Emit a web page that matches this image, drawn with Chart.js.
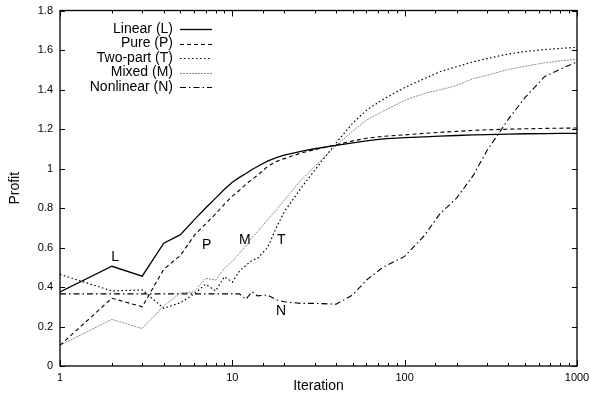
<!DOCTYPE html>
<html>
<head>
<meta charset="utf-8">
<style>
  html, body { margin: 0; padding: 0; background: #fff; }
  #box { width: 590px; height: 395px; }
</style>
</head>
<body>
<div id="box"><canvas id="myChart"></canvas></div>
<script src="https://cdn.jsdelivr.net/npm/chart.js@4/dist/chart.umd.min.js"></script>
<script>
// values
const iterations = [1,2,3,4,5,6,7,8,9,10,11,12,13,14,16,18,20,25,30,40,50,60,75,100,130,160,200,250,300,400,500,650,800,1000];
const linear    = [0.375,0.505,0.455,0.622,0.665,0.74,0.80,0.85,0.895,0.93,0.955,0.975,0.995,1.01,1.037,1.055,1.068,1.087,1.10,1.117,1.13,1.14,1.15,1.156,1.16,1.164,1.167,1.17,1.172,1.174,1.176,1.177,1.178,1.178];
const pure      = [0.105,0.343,0.30,0.49,0.56,0.66,0.72,0.77,0.82,0.86,0.89,0.92,0.945,0.965,1.01,1.035,1.05,1.078,1.095,1.12,1.14,1.153,1.163,1.17,1.178,1.183,1.188,1.193,1.196,1.199,1.201,1.203,1.204,1.205];
const twoPart   = [0.464,0.38,0.385,0.292,0.32,0.365,0.414,0.38,0.452,0.425,0.48,0.51,0.535,0.545,0.60,0.70,0.78,0.90,0.99,1.13,1.23,1.295,1.35,1.41,1.455,1.49,1.515,1.54,1.556,1.58,1.592,1.602,1.608,1.614];
const mixed     = [0.105,0.236,0.19,0.304,0.37,0.375,0.444,0.435,0.495,0.53,0.57,0.61,0.65,0.68,0.74,0.79,0.84,0.94,1.01,1.115,1.19,1.245,1.29,1.345,1.38,1.398,1.42,1.455,1.472,1.502,1.518,1.535,1.545,1.553];
const nonlinear = [0.365,0.365,0.365,0.365,0.365,0.365,0.365,0.365,0.365,0.365,0.365,0.338,0.376,0.355,0.36,0.335,0.325,0.317,0.317,0.313,0.36,0.435,0.50,0.555,0.66,0.77,0.85,0.965,1.09,1.25,1.36,1.466,1.503,1.54];

const seriesNames = ['Linear (L)','Pure (P)','Two-part (T)','Mixed (M)','Nonlinear (N)'];
const yTicks = [0,0.2,0.4,0.6,0.8,1,1.2,1.4,1.6,1.8];

// the letters written next to the curves
const noteText = ['L','P','M','T','N'];
const noteX = [2.09, 7.1, 11.8, 19.2, 19.2];
const noteY = [0.553, 0.61, 0.638, 0.638, 0.28];

const styles = [
  {color:'#000', width:1.3, dash:[]},
  {color:'#000', width:1.1, dash:[4,3]},
  {color:'#000', width:1.2, dash:[1.5,2.5]},
  {color:'#8c8c8c', width:1, dash:[2,1]},
  {color:'#000', width:1.1, dash:[6,3,1.5,3]}
];

const pts = (ys) => ys.map((y,i) => ({x: iterations[i], y: y}));
const allSeries = [linear, pure, twoPart, mixed, nonlinear];

const FONT = '"Liberation Sans", Arial, sans-serif';

const frame = {
  id: 'frame',
  afterDraw(chart) {
    const c = chart.ctx, a = chart.chartArea;
    const xs = chart.scales.x, ys = chart.scales.y;
    c.save();
    c.strokeStyle = '#000';
    c.lineWidth = 1;
    c.setLineDash([]);
    c.beginPath();
    xs.ticks.forEach(t => {
      const px = Math.round(xs.getPixelForValue(t.value)) + 0.5;
      const major = Math.abs(Math.log10(t.value) - Math.round(Math.log10(t.value))) < 1e-6;
      const len = major ? 6 : 3;
      c.moveTo(px, a.bottom); c.lineTo(px, a.bottom - len);
      c.moveTo(px, a.top); c.lineTo(px, a.top + len);
    });
    yTicks.forEach(v => {
      const py = Math.round(ys.getPixelForValue(v)) + 0.5;
      c.moveTo(a.left, py); c.lineTo(a.left + 5, py);
      c.moveTo(a.right, py); c.lineTo(a.right - 5, py);
    });
    c.stroke();
    c.lineWidth = 1.3;
    c.strokeRect(a.left, a.top, a.right - a.left, a.bottom - a.top);

    // legend, text right aligned with a sample line after it
    c.font = '14px ' + FONT;
    c.fillStyle = '#000';
    c.textAlign = 'right';
    c.textBaseline = 'middle';
    seriesNames.forEach((name, i) => {
      const y = 29 + i * 14.5;
      c.fillText(name, 173, y);
      c.strokeStyle = styles[i].color;
      c.lineWidth = styles[i].width;
      c.setLineDash(styles[i].dash);
      c.beginPath();
      c.moveTo(180, Math.round(y) + 0.5);
      c.lineTo(212, Math.round(y) + 0.5);
      c.stroke();
    });

    c.setLineDash([]);
    c.textAlign = 'center';
    noteText.forEach((t, i) => {
      c.fillText(t, xs.getPixelForValue(noteX[i]), ys.getPixelForValue(noteY[i]));
    });
    c.restore();
  }
};

const ctx = document.getElementById('myChart').getContext('2d');
const myChart = new Chart(ctx, {
  type: 'line',
  data: {
    datasets: allSeries.map((s, i) => ({
      label: seriesNames[i],
      data: pts(s),
      borderColor: styles[i].color,
      borderWidth: styles[i].width,
      borderDash: styles[i].dash,
      pointRadius: 0,
      tension: 0,
      fill: false
    }))
  },
  options: {
    responsive: true,
    maintainAspectRatio: false,
    animation: false,
    layout: { padding: { top: 10.5, right: 13, left: 0, bottom: 0 } },
    plugins: { legend: { display: false }, tooltip: { enabled: false } },
    scales: {
      x: {
        type: 'logarithmic',
        min: 1, max: 1000,
        afterFit: (s) => { s.height = 29; s.paddingLeft = 0; s.paddingRight = 0; },
        grid: { display: false, drawTicks: false },
        border: { display: false },
        ticks: {
          autoSkip: false,
          maxRotation: 0,
          padding: 5,
          color: '#000',
          font: { family: FONT, size: 11 },
          callback: (v) => [1,10,100,1000].includes(v) ? String(v) : ''
        },
        title: { display: true, text: 'Iteration', color: '#000', padding: { top: 0, bottom: 0 }, font: { family: FONT, size: 14 } }
      },
      y: {
        min: 0, max: 1.8,
        afterFit: (s) => { s.width = 60; s.paddingTop = 0; s.paddingBottom = 0; },
        grid: { display: false, drawTicks: false },
        border: { display: false },
        ticks: {
          stepSize: 0.2,
          padding: 7,
          color: '#000',
          font: { family: FONT, size: 11 },
          callback: (v) => String(Math.round(v * 10) / 10)
        },
        title: { display: true, text: 'Profit', color: '#000', padding: { top: 7, bottom: 0 }, font: { family: FONT, size: 14 } }
      }
    }
  },
  plugins: [frame]
});
</script>
</body>
</html>
